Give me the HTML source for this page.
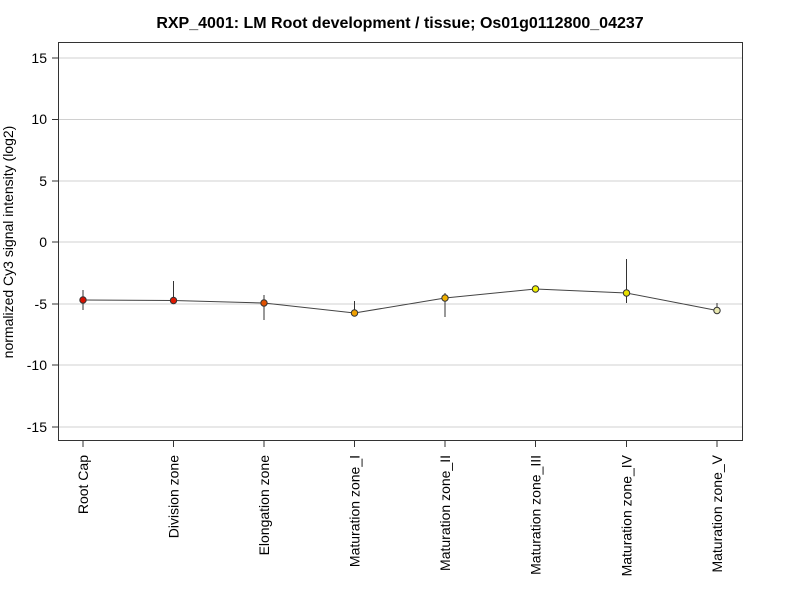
<!DOCTYPE html>
<html><head><style>body{margin:0;background:#fff}svg{display:block}</style></head><body>
<svg width="800" height="600" xmlns="http://www.w3.org/2000/svg" font-family="Liberation Sans, Arial, sans-serif">
<rect width="800" height="600" fill="#fff"/>
<text x="400" y="28" text-anchor="middle" font-size="16" font-weight="bold">RXP_4001: LM Root development / tissue; Os01g0112800_04237</text>
<g stroke="#d0d0d0" stroke-width="1">
<line x1="58" x2="742" y1="58" y2="58"/><line x1="58" x2="742" y1="119.5" y2="119.5"/><line x1="58" x2="742" y1="181" y2="181"/><line x1="58" x2="742" y1="242" y2="242"/><line x1="58" x2="742" y1="304" y2="304"/><line x1="58" x2="742" y1="365" y2="365"/><line x1="58" x2="742" y1="427" y2="427"/>
</g>
<rect x="58.5" y="42.5" width="684" height="398" fill="none" stroke="#333"/>
<g stroke="#333">
<line x1="52" x2="58" y1="58" y2="58"/><line x1="52" x2="58" y1="119.5" y2="119.5"/><line x1="52" x2="58" y1="181" y2="181"/><line x1="52" x2="58" y1="242" y2="242"/><line x1="52" x2="58" y1="304" y2="304"/><line x1="52" x2="58" y1="365" y2="365"/><line x1="52" x2="58" y1="427" y2="427"/>
<line x1="83" x2="83" y1="441" y2="447"/><line x1="173.5" x2="173.5" y1="441" y2="447"/><line x1="264" x2="264" y1="441" y2="447"/><line x1="354.5" x2="354.5" y1="441" y2="447"/><line x1="445" x2="445" y1="441" y2="447"/><line x1="535.5" x2="535.5" y1="441" y2="447"/><line x1="626.5" x2="626.5" y1="441" y2="447"/><line x1="717" x2="717" y1="441" y2="447"/>
</g>
<g font-size="14" text-anchor="end">
<text x="47" y="63">15</text><text x="47" y="124">10</text><text x="47" y="186">5</text><text x="47" y="247">0</text><text x="47" y="309">-5</text><text x="47" y="370">-10</text><text x="47" y="432">-15</text>
</g>
<text transform="translate(13,242) rotate(-90)" text-anchor="middle" font-size="14">normalized Cy3 signal intensity (log2)</text>
<g font-size="14" text-anchor="end">
<text transform="translate(88,455) rotate(-90)">Root Cap</text>
<text transform="translate(178.5,455) rotate(-90)">Division zone</text>
<text transform="translate(269,455) rotate(-90)">Elongation zone</text>
<text transform="translate(359.5,455) rotate(-90)">Maturation zone_I</text>
<text transform="translate(450,455) rotate(-90)">Maturation zone_II</text>
<text transform="translate(540.5,455) rotate(-90)">Maturation zone_III</text>
<text transform="translate(631.5,455) rotate(-90)">Maturation zone_IV</text>
<text transform="translate(722,455) rotate(-90)">Maturation zone_V</text>
</g>
<g stroke="#333" stroke-width="1">
<line x1="83" x2="83" y1="290" y2="310"/><line x1="173.5" x2="173.5" y1="281" y2="300"/><line x1="264" x2="264" y1="295" y2="320"/><line x1="354.5" x2="354.5" y1="301" y2="313"/><line x1="445" x2="445" y1="293" y2="317"/><line x1="626.5" x2="626.5" y1="259" y2="303"/><line x1="717" x2="717" y1="303" y2="310"/>
</g>
<polyline fill="none" stroke="#444" stroke-width="1" points="83,300 173.5,300.5 264,303 354.5,313 445,298 535.5,289 626.5,293 717,310.5"/>
<g stroke="#333" stroke-width="1">
<circle cx="83" cy="300" r="3.2" fill="#d81000"/>
<circle cx="173.5" cy="300.5" r="3.2" fill="#e01800"/>
<circle cx="264" cy="303" r="3.2" fill="#e05000"/>
<circle cx="354.5" cy="313" r="3.2" fill="#f0a000"/>
<circle cx="445" cy="298" r="3.2" fill="#f0b000"/>
<circle cx="535.5" cy="289" r="3.2" fill="#f0f000"/>
<circle cx="626.5" cy="293" r="3.2" fill="#e8e000"/>
<circle cx="717" cy="310.5" r="3.2" fill="#e8e8b0"/>
</g>
</svg>
</body></html>
